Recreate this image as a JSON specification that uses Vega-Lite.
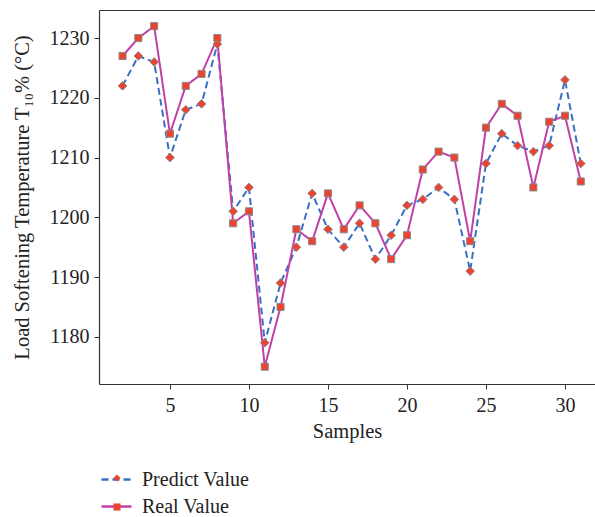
{
  "$schema": "https://vega.github.io/schema/vega-lite/v6.json",
  "autosize": {"type": "none"},
  "width": 496,
  "height": 374,
  "padding": {"left": 99, "top": 10, "right": 0, "bottom": 133},
  "background": "white",
  "config": {
    "view": {"stroke": null},
    "font": "Liberation Serif",
    "axis": {
      "grid": false,
      "labelFont": "Liberation Serif",
      "labelFontSize": 20,
      "labelColor": "#222",
      "titleFont": "Liberation Serif",
      "titleFontSize": 20.5,
      "titleFontWeight": "normal",
      "titleColor": "#222",
      "domainColor": "#333",
      "domainWidth": 1.2,
      "tickColor": "#333",
      "tickSize": 5,
      "tickWidth": 1
    },
    "legend": {
      "labelFont": "Liberation Serif",
      "labelFontSize": 20,
      "labelColor": "#222",
      "padding": 0,
      "title": null
    }
  },
  "data": {
    "values": [
      {"sample": 2, "series": "Predict Value", "value": 1222},
      {"sample": 3, "series": "Predict Value", "value": 1227},
      {"sample": 4, "series": "Predict Value", "value": 1226},
      {"sample": 5, "series": "Predict Value", "value": 1210},
      {"sample": 6, "series": "Predict Value", "value": 1218},
      {"sample": 7, "series": "Predict Value", "value": 1219},
      {"sample": 8, "series": "Predict Value", "value": 1229},
      {"sample": 9, "series": "Predict Value", "value": 1201},
      {"sample": 10, "series": "Predict Value", "value": 1205},
      {"sample": 11, "series": "Predict Value", "value": 1179},
      {"sample": 12, "series": "Predict Value", "value": 1189},
      {"sample": 13, "series": "Predict Value", "value": 1195},
      {"sample": 14, "series": "Predict Value", "value": 1204},
      {"sample": 15, "series": "Predict Value", "value": 1198},
      {"sample": 16, "series": "Predict Value", "value": 1195},
      {"sample": 17, "series": "Predict Value", "value": 1199},
      {"sample": 18, "series": "Predict Value", "value": 1193},
      {"sample": 19, "series": "Predict Value", "value": 1197},
      {"sample": 20, "series": "Predict Value", "value": 1202},
      {"sample": 21, "series": "Predict Value", "value": 1203},
      {"sample": 22, "series": "Predict Value", "value": 1205},
      {"sample": 23, "series": "Predict Value", "value": 1203},
      {"sample": 24, "series": "Predict Value", "value": 1191},
      {"sample": 25, "series": "Predict Value", "value": 1209},
      {"sample": 26, "series": "Predict Value", "value": 1214},
      {"sample": 27, "series": "Predict Value", "value": 1212},
      {"sample": 28, "series": "Predict Value", "value": 1211},
      {"sample": 29, "series": "Predict Value", "value": 1212},
      {"sample": 30, "series": "Predict Value", "value": 1223},
      {"sample": 31, "series": "Predict Value", "value": 1209},
      {"sample": 2, "series": "Real Value", "value": 1227},
      {"sample": 3, "series": "Real Value", "value": 1230},
      {"sample": 4, "series": "Real Value", "value": 1232},
      {"sample": 5, "series": "Real Value", "value": 1214},
      {"sample": 6, "series": "Real Value", "value": 1222},
      {"sample": 7, "series": "Real Value", "value": 1224},
      {"sample": 8, "series": "Real Value", "value": 1230},
      {"sample": 9, "series": "Real Value", "value": 1199},
      {"sample": 10, "series": "Real Value", "value": 1201},
      {"sample": 11, "series": "Real Value", "value": 1175},
      {"sample": 12, "series": "Real Value", "value": 1185},
      {"sample": 13, "series": "Real Value", "value": 1198},
      {"sample": 14, "series": "Real Value", "value": 1196},
      {"sample": 15, "series": "Real Value", "value": 1204},
      {"sample": 16, "series": "Real Value", "value": 1198},
      {"sample": 17, "series": "Real Value", "value": 1202},
      {"sample": 18, "series": "Real Value", "value": 1199},
      {"sample": 19, "series": "Real Value", "value": 1193},
      {"sample": 20, "series": "Real Value", "value": 1197},
      {"sample": 21, "series": "Real Value", "value": 1208},
      {"sample": 22, "series": "Real Value", "value": 1211},
      {"sample": 23, "series": "Real Value", "value": 1210},
      {"sample": 24, "series": "Real Value", "value": 1196},
      {"sample": 25, "series": "Real Value", "value": 1215},
      {"sample": 26, "series": "Real Value", "value": 1219},
      {"sample": 27, "series": "Real Value", "value": 1217},
      {"sample": 28, "series": "Real Value", "value": 1205},
      {"sample": 29, "series": "Real Value", "value": 1216},
      {"sample": 30, "series": "Real Value", "value": 1217},
      {"sample": 31, "series": "Real Value", "value": 1206}
    ]
  },
  "layer": [
    {
      "mark": {"type": "line", "strokeWidth": 2},
      "encoding": {
        "x": {
          "field": "sample", "type": "quantitative",
          "scale": {"domain": [0.51, 31.9], "nice": false, "zero": false},
          "axis": {"orient": "bottom", "values": [5, 10, 15, 20, 25, 30], "format": "d", "title": "Samples", "labelPadding": 6, "titlePadding": 6}
        },
        "y": {
          "field": "value", "type": "quantitative",
          "scale": {"domain": [1172.1, 1234.7], "nice": false, "zero": false},
          "axis": {"values": [1180, 1190, 1200, 1210, 1220, 1230], "format": "d", "title": "Load Softening Temperature T₁₀% (°C)", "labelPadding": 5, "titlePadding": 17}
        },
        "color": {
          "field": "series", "type": "nominal",
          "scale": {"domain": ["Predict Value", "Real Value"], "range": ["#3a6fc4", "#c040a8"]},
          "legend": {"orient": "none", "legendX": 1, "legendY": 453, "symbolType": "stroke", "symbolSize": 900, "symbolStrokeWidth": 2.5, "labelOffset": 9, "rowPadding": -1}
        },
        "strokeDash": {
          "field": "series", "type": "nominal",
          "scale": {"domain": ["Predict Value", "Real Value"], "range": [[7, 4], [1, 0]]},
          "legend": {"orient": "none", "legendX": 1, "legendY": 453, "symbolType": "stroke", "symbolSize": 900, "symbolStrokeWidth": 2.5, "labelOffset": 9, "rowPadding": -1}
        }
      }
    },
    {
      "mark": {"type": "point", "filled": true, "fill": "#ee4130", "stroke": "#8a8a8a", "strokeWidth": 1, "opacity": 1},
      "encoding": {
        "x": {
          "field": "sample", "type": "quantitative",
          "axis": {"orient": "top", "labels": false, "ticks": false, "title": null, "domain": true}
        },
        "y": {"field": "value", "type": "quantitative"},
        "shape": {
          "field": "series", "type": "nominal",
          "scale": {"domain": ["Predict Value", "Real Value"], "range": ["diamond", "square"]},
          "legend": {"orient": "none", "legendX": 8, "legendY": 458, "symbolSize": 50, "symbolFillColor": "#ee4130", "symbolStrokeColor": "#8a8a8a", "symbolStrokeWidth": 1, "symbolOpacity": 1, "labelExpr": "''", "rowPadding": 9}
        },
        "size": {
          "field": "series", "type": "nominal",
          "scale": {"domain": ["Predict Value", "Real Value"], "range": [75, 50]},
          "legend": null
        }
      }
    }
  ],
  "resolve": {
    "axis": {"x": "independent"},
    "legend": {"color": "independent", "strokeDash": "independent", "shape": "independent"}
  }
}
